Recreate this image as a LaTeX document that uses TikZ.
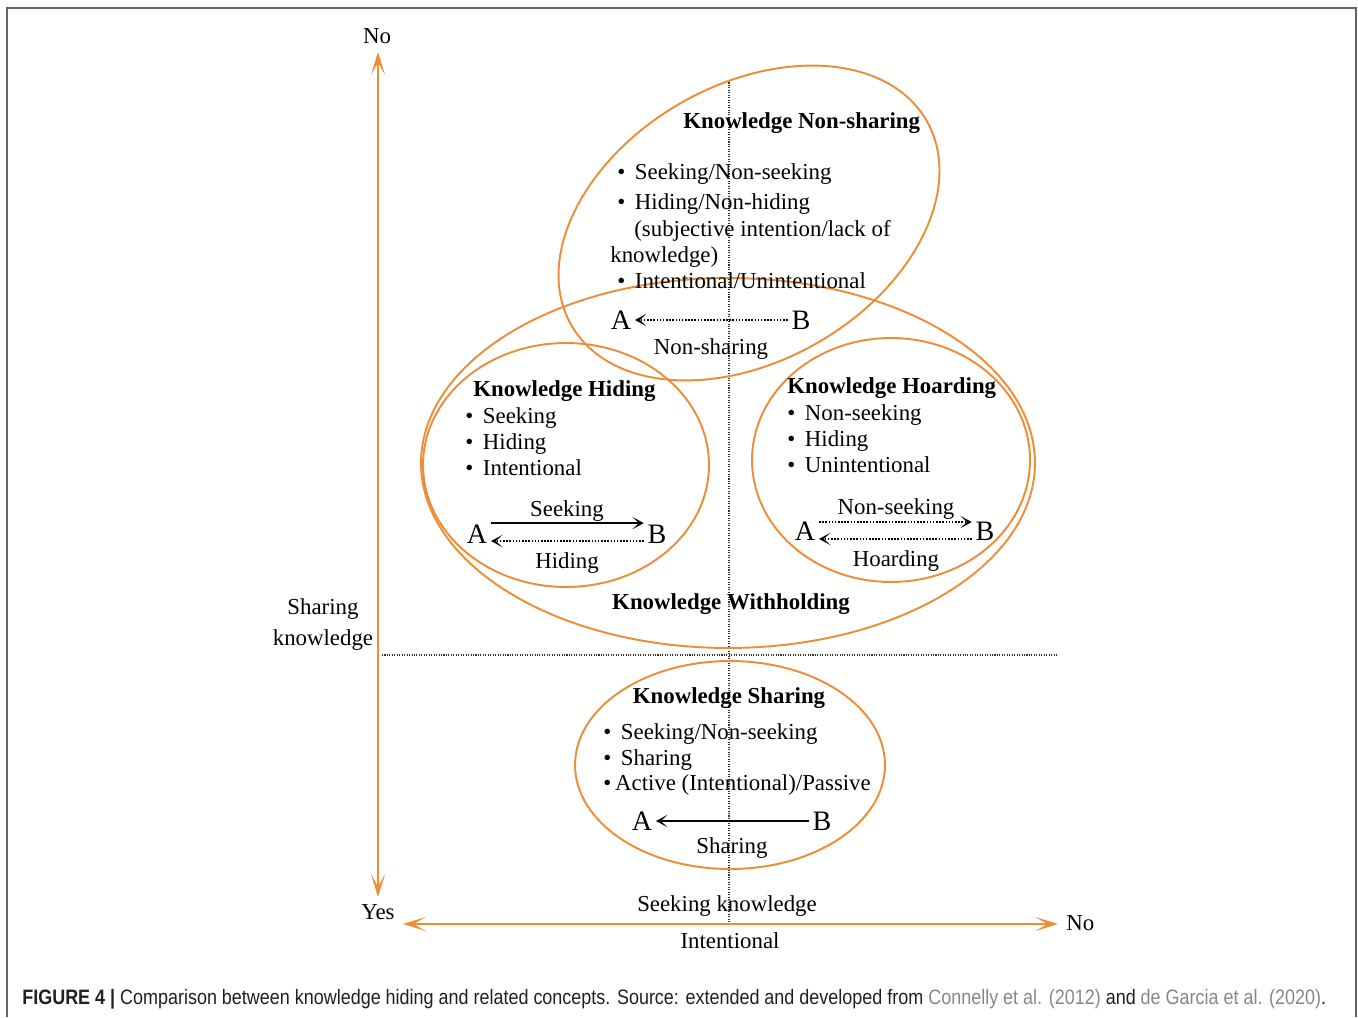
\documentclass[tikz,border=0pt]{standalone}
\usepackage{fontspec}
\setmainfont{Liberation Serif}
\newfontfamily\capfont[FakeStretch=0.86]{Liberation Sans}
\usetikzlibrary{arrows.meta}
\definecolor{orng}{RGB}{239,140,55}
\definecolor{capdark}{RGB}{35,31,32}
\definecolor{capgray}{RGB}{135,135,135}
\definecolor{framegray}{RGB}{100,100,100}
\newcommand{\bul}{\textbullet\hspace{0.42em}}
\begin{document}
\begin{tikzpicture}[x=0.02cm,y=-0.02cm,
  every node/.style={inner sep=0pt,font=\fontsize{13}{15}\selectfont},
  txt/.style={anchor=base west},
  ctxt/.style={anchor=base},
  ttl/.style={anchor=base west,font=\fontsize{13}{15}\selectfont\bfseries},
  letter/.style={inner sep=2pt,font=\fontsize{16}{18}\selectfont},
  oval/.style={draw=orng,line width=1.1pt},
  axis/.style={draw=orng,line width=1.6pt,{Stealth[length=13pt,width=8pt,inset=7pt]}-{Stealth[length=13pt,width=8pt,inset=7pt]}},
  guide/.style={draw=black!80,line width=0.6pt,dash pattern=on 0.6pt off 0.8pt},
  solidarr/.style={draw=black,line width=1.2pt,-{Stealth[length=6.5pt,width=7pt,inset=3.8pt]}},
  dotarr/.style={draw=black,line width=1.3pt,dash pattern=on 0.9pt off 0.9pt,-{Stealth[length=6.5pt,width=7pt,inset=3.8pt]}},
]
\useasboundingbox (0,0) rectangle (1358,1017);
% frame
\draw[framegray,line width=1pt] (7,1017) -- (7,8) -- (1356,8) -- (1356,1017);

% guides
\coordinate (vgT) at (729,80);
\coordinate (vgB) at (729,922);
\coordinate (hgL) at (382,655);
\coordinate (hgR) at (1057,655);
\draw[guide] (vgT) -- (vgB);
\draw[guide] (hgL) -- (hgR);

% ellipses
\draw[oval,rotate around={30:(749,223)}] (749,223) ellipse [x radius=4.1cm,y radius=2.76cm];
\draw[oval] (728,463) ellipse [x radius=6.14cm,y radius=3.7cm];
\draw[oval] (566,465) ellipse [x radius=2.86cm,y radius=2.44cm];
\draw[oval] (891,460) ellipse [x radius=2.78cm,y radius=2.44cm];
\draw[oval] (730,765) ellipse [x radius=3.1cm,y radius=2.08cm];

% axes
\node (noTop) at (377,36) {No};
\node (yesL) at (378,912) {Yes};
\node[anchor=west] (noR) at (1066,923) {No};
\coordinate (vaT) at (378,52);
\coordinate (vaB) at (378,897);
\coordinate (haL) at (403,924);
\coordinate (haR) at (1058,924);
\draw[axis] (vaB) -- (vaT);
\draw[axis] (haL) -- (haR);
\node[ctxt] (seekk) at (727,911) {Seeking knowledge};
\node[ctxt] (intl) at (730,948) {Intentional};
\node[ctxt] (shk1) at (323,614) {Sharing};
\node[ctxt] (shk2) at (323,645) {knowledge};

% Knowledge Non-sharing
\node[ttl] (nsT) at (683,129) {Knowledge Non-sharing};
\node[txt] (ns1) at (617,179) {\bul Seeking/Non-seeking};
\node[txt] (ns2) at (617,209) {\bul Hiding/Non-hiding};
\node[txt] (ns3) at (634,236) {(subjective intention/lack of};
\node[txt] (ns4) at (610,262) {knowledge)};
\node[txt] (ns5) at (617,288) {\bul Intentional/Unintentional};
\node[letter] (nsA) at (621,320) {A};
\node[letter] (nsB) at (801,320) {B};
\draw[dotarr] (nsB.west) -- (nsA.east);
\node[ctxt] (nsL) at (711,354) {Non-sharing};

% Knowledge Hiding
\node[ttl] (hT) at (473,396) {Knowledge Hiding};
\node[txt] (h1) at (465,423) {\bul Seeking};
\node[txt] (h2) at (465,449) {\bul Hiding};
\node[txt] (h3) at (465,475) {\bul Intentional};
\node[ctxt] (hS) at (567,516) {Seeking};
\node[letter] (hA) at (477,534) {A};
\node[letter] (hB) at (657,534) {B};
\draw[solidarr] ([yshift=6.2pt]hA.east) -- ([yshift=6.2pt]hB.west);
\draw[dotarr] ([yshift=-4pt]hB.west) -- ([yshift=-4pt]hA.east);
\node[ctxt] (hH) at (567,568) {Hiding};

% Knowledge Hoarding
\node[ttl] (oT) at (787,393) {Knowledge Hoarding};
\node[txt] (o1) at (787,420) {\bul Non-seeking};
\node[txt] (o2) at (787,446) {\bul Hiding};
\node[txt] (o3) at (787,472) {\bul Unintentional};
\node[ctxt] (oN) at (896,514) {Non-seeking};
\node[letter] (oA) at (805,531) {A};
\node[letter] (oB) at (985,531) {B};
\draw[dotarr] ([yshift=5.1pt]oA.east) -- ([yshift=5.1pt]oB.west);
\draw[dotarr] ([yshift=-4.5pt]oB.west) -- ([yshift=-4.5pt]oA.east);
\node[ctxt] (oH) at (896,566) {Hoarding};

% Withholding
\node[ctxt,font=\fontsize{13}{15}\selectfont\bfseries] (wT) at (731,609) {Knowledge Withholding};

% Knowledge Sharing
\node[ctxt,font=\fontsize{13}{15}\selectfont\bfseries] (sT) at (729,703) {Knowledge Sharing};
\node[txt] (s1) at (603,739) {\bul Seeking/Non-seeking};
\node[txt] (s2) at (603,765) {\bul Sharing};
\node[txt] (s3) at (603,790) {\textbullet\,Active (Intentional)/Passive};
\node[letter] (sA) at (642,821) {A};
\node[letter] (sB) at (822,821) {B};
\draw[solidarr] (sB.west) -- (sA.east);
\node[ctxt] (sL) at (732,853) {Sharing};

% caption
\node[anchor=base west,font=\capfont] (cap) at (22,1004) {\resizebox{26.08cm}{!}{\capfont\fontsize{10}{12}\selectfont\color{capdark}\textbf{FIGURE 4 |} Comparison between knowledge hiding and related concepts. Source: extended and developed from {\color{capgray}Connelly et al. (2012)} and {\color{capgray}de Garcia et al. (2020)}.}};
\end{tikzpicture}
\end{document}
